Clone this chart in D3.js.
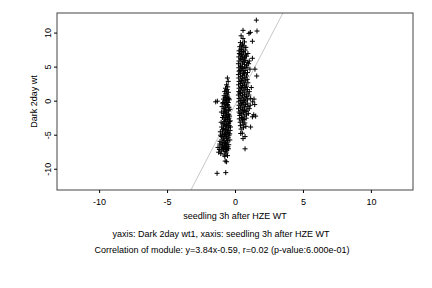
<!DOCTYPE html>
<html><head><meta charset="utf-8">
<script src="https://cdn.jsdelivr.net/npm/d3@7"></script>
<style>body{margin:0;background:#fff}svg{display:block}text{font-family:"Liberation Sans",Arial,sans-serif;fill:#000}</style>
</head><body><svg id="c" width="432" height="288"></svg>
<script>
const xTicks = [-10, -5, 0, 5, 10];
const yTicks = [-10, -5, 0, 5, 10];
const xLabel = "seedling 3h after HZE WT";
const yLabel = "Dark 2day wt";
const title1 = "yaxis: Dark 2day wt1, xaxis: seedling 3h after HZE WT";
const title2 = "Correlation of module: y=3.84x-0.59, r=0.02 (p-value:6.000e-01)";
const fitSlope = 3.84, fitIntercept = -0.59;
const xDomain = [-13.1, 13.1];
const yDomain = [-13.05, 12.95];
const clusterLeft = [
[-0.56,3.4],[-0.50,2.9],[-0.62,2.4],[-0.54,2.1],[-1.42,-0.1],[-1.30,0.0],
[-0.70,1.9],[-0.58,1.7],[-0.49,1.3],[-0.66,1.1],[-0.76,1.4],
[-0.80,0.8],[-0.68,0.6],[-0.57,0.9],[-0.46,0.4],[-0.85,0.3],
[-0.72,0.1],[-0.61,0.3],[-0.50,-0.2],[-0.42,0.2],[-0.90,-0.3],
[-0.78,-0.4],[-0.66,-0.6],[-0.55,-0.5],[-0.45,-0.9],[-0.95,-0.8],
[-0.82,-1.1],[-0.70,-0.9],[-0.60,-1.3],[-0.48,-1.4],[-0.38,-1.2],
[-1.00,-1.6],[-0.86,-1.8],[-0.74,-1.5],[-0.62,-2.0],[-0.52,-1.9],[-0.40,-2.2],
[-0.92,-2.4],[-0.80,-2.6],[-0.68,-2.3],[-0.56,-2.7],[-0.44,-2.5],[-0.35,-2.9],
[-1.02,-3.1],[-0.88,-3.3],[-0.76,-3.0],[-0.64,-3.4],[-0.52,-3.2],[-0.42,-3.6],
[-0.98,-3.8],[-0.85,-4.0],[-0.72,-3.7],[-0.60,-4.1],[-0.48,-3.9],[-0.36,-4.3],
[-1.08,-4.5],[-0.92,-4.7],[-0.80,-4.4],[-0.68,-4.8],[-0.56,-4.6],[-0.44,-5.0],
[-1.00,-5.2],[-0.86,-5.4],[-0.74,-5.1],[-0.62,-5.5],[-0.50,-5.3],[-0.38,-5.7],
[-1.10,-5.9],[-0.95,-6.1],[-0.82,-5.8],[-0.70,-6.2],[-0.58,-6.0],[-0.46,-6.4],
[-1.02,-6.6],[-0.88,-6.8],[-0.76,-6.5],[-0.64,-6.9],[-0.52,-6.7],
[-1.15,-7.1],[-0.98,-7.3],[-0.84,-7.0],[-0.72,-7.4],[-0.60,-7.2],[-0.48,-7.0],
[-1.20,-7.5],[-1.05,-7.7],[-0.80,-7.9],[-0.65,-7.6],
[-0.75,-8.1],[-0.55,-8.0],[-0.72,-8.8],[-0.62,-8.9],
[-1.32,-10.6],[-0.68,-10.5],
[-0.73,0.5],[-0.64,-0.2],[-0.53,-0.7],[-0.77,-1.3],[-0.67,-1.7],[-0.58,-2.4],[-0.84,-2.1],
[-0.71,-2.8],[-0.61,-3.6],[-0.82,-3.5],[-0.69,-4.2],[-0.57,-4.4],[-0.90,-4.2],[-0.78,-4.9],
[-0.65,-5.2],[-0.55,-5.8],[-0.88,-5.6],[-0.76,-6.1],[-0.63,-6.4],[-0.93,-6.4],[-0.70,-6.7],
[-0.57,-6.9],[-0.89,-7.0],[-0.66,-7.1],[-0.47,-3.3],[-0.50,-4.7],[-0.46,-2.0],[-0.40,-3.0],
[-0.33,-3.8],[-0.39,-4.8],[-1.06,-5.0],[-1.12,-6.3],[-1.25,-6.8],[-0.87,-0.2],[-0.60,0.0],
[-0.53,0.6],[-0.64,1.5]
];
const clusterRight = [
[1.57,11.9],[0.59,10.4],[1.03,9.95],[1.13,10.1],[1.62,10.3],[1.28,8.8],[0.59,9.2],[0.45,9.6],
[0.40,8.6],[0.55,8.4],[0.70,8.7],
[0.35,8.0],[0.50,7.8],[0.65,8.1],[0.80,7.9],
[0.30,7.4],[0.45,7.6],[0.60,7.3],[0.75,7.5],
[0.32,7.0],[0.48,6.8],[0.62,7.1],[0.78,6.9],[0.95,7.0],
[0.28,6.5],[0.42,6.3],[0.56,6.6],[0.70,6.4],[0.85,6.6],[1.28,6.3],
[0.30,5.9],[0.45,6.1],[0.60,5.8],[0.75,6.0],[0.90,5.7],[1.05,5.9],
[0.25,5.5],[0.40,5.3],[0.55,5.6],[0.70,5.4],[0.85,5.2],[1.00,5.5],
[0.28,4.9],[0.42,5.1],[0.58,4.8],[0.72,5.0],[0.88,4.9],[1.10,4.7],
[0.30,4.4],[0.45,4.6],[0.60,4.3],[0.75,4.5],[0.92,4.2],[1.47,4.7],
[0.25,3.9],[0.40,4.1],[0.55,3.8],[0.70,4.0],[0.85,3.7],
[0.28,3.4],[0.42,3.6],[0.58,3.3],[0.72,3.5],[0.90,3.2],[1.60,3.7],
[0.30,2.9],[0.45,3.1],[0.60,2.8],[0.76,3.0],[0.95,2.7],
[0.26,2.4],[0.40,2.6],[0.55,2.3],[0.70,2.5],[0.85,2.2],
[0.30,1.9],[0.45,2.1],[0.60,1.8],[0.75,2.0],[0.92,1.7],
[0.28,1.4],[0.42,1.6],[0.58,1.3],[0.72,1.5],[0.88,1.2],[1.05,1.4],
[0.25,0.9],[0.40,1.1],[0.55,0.8],[0.70,1.0],[0.85,0.7],[1.02,0.9],
[0.30,0.4],[0.45,0.6],[0.60,0.3],[0.75,0.5],[0.92,0.2],[1.15,0.4],
[0.28,-0.1],[0.42,0.1],[0.58,-0.2],[0.72,0.0],[0.90,-0.3],[1.30,-0.1],
[0.30,-0.6],[0.45,-0.4],[0.60,-0.7],[0.78,-0.5],[0.95,-0.8],[1.12,-0.6],
[0.26,-1.1],[0.40,-0.9],[0.55,-1.2],[0.70,-1.0],[0.88,-1.3],[1.05,-1.1],
[0.30,-1.6],[0.45,-1.4],[0.62,-1.7],[0.80,-1.5],[0.98,-1.8],
[0.35,-2.1],[0.50,-1.9],[0.68,-2.2],[0.85,-2.0],[1.28,-2.3],
[0.32,-2.6],[0.48,-2.4],[0.65,-2.7],[0.82,-2.5],[1.52,-2.2],
[0.38,-3.1],[0.55,-2.9],[0.72,-3.2],
[0.40,-3.6],[0.60,-3.4],[0.80,-3.7],[1.15,-3.8],
[0.45,-4.1],[0.62,-3.9],
[0.54,-4.7],[0.74,-5.2],[0.59,-5.5],[0.74,-7.0],[0.42,-4.75],
[0.38,6.9],[0.52,5.0],[0.36,4.5],[0.50,3.0],[0.35,1.2],[0.50,-0.4],[0.37,-1.8],[0.52,-2.6],
[0.66,6.2],[0.64,4.1],[0.48,2.0],[0.66,0.1],[0.46,7.3],[0.68,-1.4],[0.52,8.2],[1.45,-0.5],
[1.40,0.3],[1.20,2.0],[1.38,-2.0]
];

const svg = d3.select("#c");
const L = 57, R = 413, T = 13, B = 190;
const x = d3.scaleLinear().domain(xDomain).range([L, R]);
const y = d3.scaleLinear().domain(yDomain).range([B, T]);

svg.append("clipPath").attr("id","clip").append("rect")
  .attr("x", L).attr("y", T).attr("width", R-L).attr("height", B-T);

// regression line
svg.append("line").attr("clip-path","url(#clip)")
  .attr("x1", x(xDomain[0])).attr("y1", y(fitSlope*xDomain[0]+fitIntercept))
  .attr("x2", x(xDomain[1])).attr("y2", y(fitSlope*xDomain[1]+fitIntercept))
  .attr("stroke", "#c8c8c8").attr("stroke-width", 1);

// points
const pts = clusterLeft.concat(clusterRight);
svg.append("g").selectAll("path").data(pts).join("path")
  .attr("transform", d => `translate(${x(d[0])},${y(d[1])})`)
  .attr("d", "M-2.5,0H2.5M0,-2.5V2.5")
  .attr("stroke", "#000").attr("stroke-width", 1).attr("fill", "none");

// box
svg.append("rect").attr("x", L).attr("y", T).attr("width", R-L).attr("height", B-T)
  .attr("fill", "none").attr("stroke", "#444").attr("stroke-width", 1);

// axes
const xAxis = d3.axisBottom(x).tickValues(xTicks).tickSize(3).tickPadding(6).tickFormat(d3.format("d"));
const gx = svg.append("g").attr("transform", `translate(0,${B})`).call(xAxis);
gx.select(".domain").remove();
gx.selectAll("text").attr("font-size", 9).style("font-family", '"Liberation Sans",Arial,sans-serif').text(d => String(d));

const yAxis = d3.axisLeft(y).tickValues(yTicks).tickSize(3).tickFormat(d3.format("d"));
const gy = svg.append("g").attr("transform", `translate(${L},0)`).call(yAxis);
gy.select(".domain").remove();
gy.selectAll(".tick").attr("transform", null);
gy.selectAll(".tick line").attr("transform", d => `translate(0,${y(d)})`);
gy.selectAll("text").attr("font-size", 9).style("font-family", '"Liberation Sans",Arial,sans-serif')
  .attr("text-anchor", "middle").attr("x", 0).attr("y", 0).attr("dy", 0)
  .attr("transform", d => `translate(-6,${y(d)}) rotate(-90)`)
  .text(d => String(d));

svg.append("text").attr("x", (L+R)/2).attr("y", 219).attr("text-anchor", "middle").attr("font-size", 9).text(xLabel);
svg.append("text").attr("transform", `translate(37,${(T+B)/2}) rotate(-90)`).attr("text-anchor", "middle").attr("font-size", 9).text(yLabel);
svg.append("text").attr("x", 221).attr("y", 237).attr("text-anchor", "middle").attr("font-size", 9).text(title1);
svg.append("text").attr("x", 222).attr("y", 253).attr("text-anchor", "middle").attr("font-size", 9).text(title2);
</script></body></html>
